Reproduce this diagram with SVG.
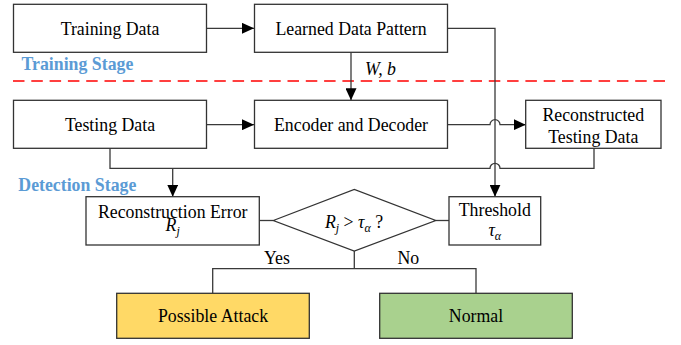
<svg xmlns="http://www.w3.org/2000/svg" width="681" height="345" viewBox="0 0 681 345">
<defs>
<style>
.box{fill:#fff;stroke:#333;stroke-width:1.3}
.ln{fill:none;stroke:#3a3a3a;stroke-width:1.3}
.t{font-family:"Liberation Serif","Times New Roman",serif;font-size:17.8px;fill:#000;text-anchor:middle}
.it{font-style:italic}
.stage{font-family:"Liberation Serif","Times New Roman",serif;font-size:17.8px;font-weight:bold;fill:#5B9BD5}
</style>
<marker id="ah" markerUnits="userSpaceOnUse" markerWidth="12" markerHeight="11" refX="12" refY="5.5" orient="auto">
<path d="M0,0 L12,5.5 L0,11 Z" fill="#000"/>
</marker>
</defs>
<rect width="681" height="345" fill="#fff"/>

<text class="stage" x="21.5" y="70">Training Stage</text>
<text class="stage" x="18.3" y="191">Detection Stage</text>
<line x1="13" y1="81" x2="671" y2="81" stroke="#f00" stroke-width="1.5" stroke-dasharray="11.5,6.8"/>

<g id="connectors">
<path class="ln" d="M206.5,28.3 H254" marker-end="url(#ah)"/>
<path class="ln" d="M351,52.3 V100.3" marker-end="url(#ah)"/>
<path class="ln" d="M206.5,124.7 H254" marker-end="url(#ah)"/>
<path class="ln" d="M447.5,124.7 H490 A5,5 0 0 1 500,124.7 H525.7" marker-end="url(#ah)"/>
<path class="ln" d="M447.5,28.3 H495 V196.7" marker-end="url(#ah)"/>
<path class="ln" d="M594,148.3 V168.3 H500 A5,5 0 0 0 490,168.3 H110 V148.3"/>
<path class="ln" d="M172.7,168.3 V196.7" marker-end="url(#ah)"/>
<path class="ln" d="M259.3,220.5 H273.3"/>
<path class="ln" d="M435.7,220.5 H449"/>
<path class="ln" d="M354.3,251 V268.7 M212.7,293.3 V268.7 H476 V293.3"/>
<text class="t it" x="380.5" y="75">W, b</text>
<text class="t" x="277" y="264">Yes</text>
<text class="t" x="408.3" y="264">No</text>
</g>

<g id="training-data">
<rect class="box" x="13.5" y="4.3" width="193" height="48"/>
<text class="t" x="110" y="34.8">Training Data</text>
</g>
<g id="learned-data-pattern">
<rect class="box" x="254.5" y="4.3" width="193" height="48"/>
<text class="t" x="351" y="34.8">Learned Data Pattern</text>
</g>
<g id="testing-data">
<rect class="box" x="13.5" y="100.3" width="193" height="48"/>
<text class="t" x="110" y="131">Testing Data</text>
</g>
<g id="encoder-decoder">
<rect class="box" x="254.5" y="100.3" width="193" height="48"/>
<text class="t" x="351" y="131">Encoder and Decoder</text>
</g>
<g id="reconstructed-testing-data">
<rect class="box" x="525.7" y="100.3" width="135.3" height="48"/>
<text class="t" x="593.3" y="120.5">Reconstructed</text>
<text class="t" x="593.3" y="142.5">Testing Data</text>
</g>
<g id="reconstruction-error">
<rect class="box" x="86" y="196.7" width="173.3" height="48.3"/>
<text class="t" x="172.7" y="217.5">Reconstruction Error</text>
<text class="t it" x="172.7" y="231">R<tspan font-size="12" dy="4">j</tspan></text>
</g>
<g id="decision">
<path class="box" d="M273.3,220.5 L354.3,189.5 L435.7,220.5 L354.3,251 Z"/>
<text class="t it" x="354" y="228">R<tspan font-size="12" dy="4">j</tspan><tspan font-style="normal" dy="-4"> &gt; </tspan>τ<tspan font-size="12" dy="4">α</tspan><tspan font-style="normal" dy="-4"> ?</tspan></text>
</g>
<g id="threshold">
<rect class="box" x="449" y="196.7" width="91.7" height="48.3"/>
<text class="t" x="494.8" y="215.6">Threshold</text>
<text class="t it" x="494.8" y="236">τ<tspan font-size="12" dy="4">α</tspan></text>
</g>
<g id="possible-attack">
<rect x="116.7" y="293.3" width="192.6" height="45" fill="#FFD966" stroke="#333" stroke-width="1.3"/>
<text class="t" x="213" y="322.3">Possible Attack</text>
</g>
<g id="normal">
<rect x="379.7" y="293.3" width="192.6" height="45" fill="#A9D18E" stroke="#333" stroke-width="1.3"/>
<text class="t" x="476" y="322.3">Normal</text>
</g>
</svg>
